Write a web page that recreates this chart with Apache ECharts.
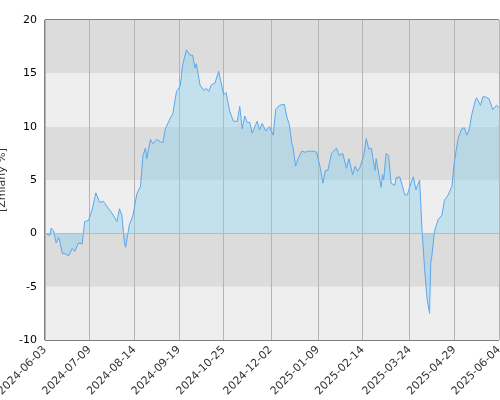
<!DOCTYPE html>
<html><head><meta charset="utf-8">
<script src="https://cdn.jsdelivr.net/npm/echarts@6/dist/echarts.min.js"></script>
<style>html,body{margin:0;padding:0;background:#fff}#c{width:500px;height:400px}</style>
</head><body><div id="c"></div>
<script>
// day offsets since 2024-06-03
const days = [0,1,4,5,7,9,11,12,14,16,19,22,24,27,30,32,35,38,41,44,47,50,54,58,60,62,64,65,68,71,74,77,79,81,82,85,87,90,93,95,97,101,103,106,109,111,114,117,119,121,122,125,128,130,132,134,137,140,144,146,149,152,155,157,159,161,163,165,167,168,171,173,175,178,181,184,186,189,193,195,197,199,200,202,204,207,210,212,216,219,222,224,226,228,231,235,237,240,243,245,248,250,252,254,257,259,261,263,266,267,271,272,273,275,277,279,282,283,286,288,290,292,295,297,299,302,304,306,308,310,311,312,314,317,320,322,325,328,330,333,336,338,340,342,344,347,348,351,353,355,358,361,364,366];
const values = [0,0,-0.2,0.5,0.2,-0.9,-0.4,-0.8,-1.9,-1.9,-2.1,-1.4,-1.7,-0.9,-1.0,1.1,1.2,2.2,3.8,2.9,3.0,2.5,1.9,1.1,2.3,1.7,-0.9,-1.3,0.8,1.7,3.7,4.4,7.3,8.0,7.0,8.8,8.4,8.8,8.6,8.5,9.8,10.8,11.2,13.3,13.8,15.8,17.2,16.7,16.7,15.5,15.9,13.9,13.4,13.6,13.3,13.9,14.1,15.2,13.0,13.2,11.4,10.5,10.5,11.9,9.8,11.0,10.4,10.4,9.4,9.5,10.5,9.7,10.3,9.6,10.0,9.2,11.6,12.0,12.1,10.9,10.2,8.4,8.0,6.3,7.0,7.7,7.6,7.7,7.7,7.6,6.1,4.7,5.9,5.9,7.5,8.0,7.3,7.5,6.1,7.0,5.5,6.3,5.8,6.2,7.3,8.9,7.9,8.0,5.9,7.0,4.3,5.5,5.0,7.5,7.3,4.7,4.5,5.2,5.3,4.5,3.6,3.6,4.7,5.3,4.1,5.0,0.2,-3.3,-6.1,-7.5,-2.8,-2.0,0.2,1.3,1.7,3.1,3.6,4.4,6.7,8.9,9.8,9.9,9.2,9.7,11.1,12.5,12.7,12.0,12.8,12.8,12.6,11.6,12.0,11.8];
const tickDays = [0,36,72,108,144,182,220,256,294,330,366];
const tickLabels = ['2024-06-03','2024-07-09','2024-08-14','2024-09-19','2024-10-25','2024-12-02','2025-01-09','2025-02-14','2025-03-24','2025-04-29','2025-06-04'];
const data = days.map((d,i)=>[d,values[i]]);
const chart = echarts.init(document.getElementById('c'));
chart.setOption({
  animation:false,
  grid:{left:45,right:1,top:20,bottom:60,show:true,borderColor:'#000',borderWidth:1,containLabel:false,outerBoundsMode:'none'},
  xAxis:{type:'value',min:0,max:366,
    axisLine:{show:false},
    axisTick:{show:false,customValues:tickDays},
    splitLine:{show:true,lineStyle:{color:'#b4b4b4',width:1}},
    axisLabel:{customValues:tickDays,rotate:45,fontSize:11,color:'#333',fontFamily:'DejaVu Sans',
      formatter:v=>tickLabels[tickDays.indexOf(Math.round(v))]||''}},
  yAxis:{type:'value',min:-10,max:20,interval:5,
    name:'[Zmiany %]',nameLocation:'middle',nameGap:28,nameTextStyle:{fontSize:11,color:'#333',fontFamily:'DejaVu Sans'},
    axisLine:{show:false},axisTick:{show:false},
    axisLabel:{fontSize:11,color:'#000',fontFamily:'DejaVu Sans'},
    splitLine:{show:false},
    splitArea:{show:true,areaStyle:{color:['#eeeeee','#dcdcdc']}}},
  series:[{type:'line',data:data,symbol:'none',
    lineStyle:{color:'#5aa8ee',width:1},
    areaStyle:{color:'rgba(135,206,235,0.6)',origin:0},
    markLine:{silent:true,symbol:'none',label:{show:false},lineStyle:{color:'#7fcdea',type:'solid',width:1},data:[{yAxis:0}]}}]
});
</script></body></html>
